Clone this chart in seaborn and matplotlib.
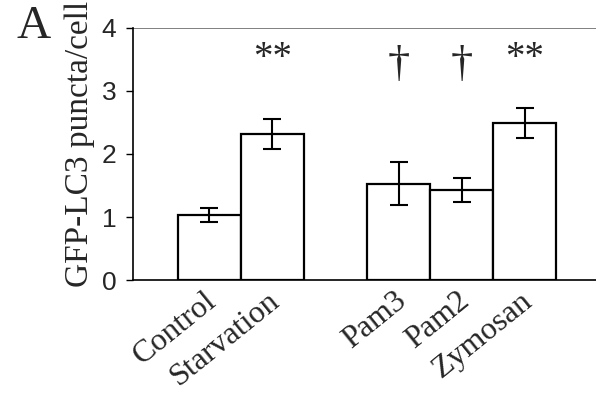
import matplotlib
matplotlib.use("Agg")
import matplotlib.pyplot as plt
import matplotlib.transforms as mtrans
import seaborn as sns
import pandas as pd

categories = ["Control", "Starvation", "Pam3", "Pam2", "Zymosan"]
order = ["Control", "Starvation", " ", "Pam3", "Pam2", "Zymosan"]
values = [1.03, 2.32, 1.53, 1.43, 2.49]
errors = [0.11, 0.24, 0.34, 0.19, 0.24]
marks = ["", "**", "\u2020", "\u2020", "**"]
yticks = [0, 1, 2, 3, 4]

sns.set_theme(style="white")
plt.rcParams["font.family"] = ["Liberation Serif", "DejaVu Serif"]

df = pd.DataFrame({"cat": categories, "val": values})

fig = plt.figure(figsize=(5.96, 3.93), dpi=100)
ax = fig.add_axes([0.223, 0.2875, 0.777, 0.6413])

sns.barplot(data=df, x="cat", y="val", order=order, width=1.0,
            color="white", edgecolor="black", linewidth=1.6,
            errorbar=None, ax=ax)
for b in ax.patches:
    b.set_facecolor("white")

pos = [order.index(c) for c in categories]
ax.errorbar(pos, values, yerr=errors, fmt="none", ecolor="black",
            elinewidth=1.5, capsize=6.5, capthick=1.5, zorder=5)

for p, v, e, m in zip(pos, values, errors, marks):
    if m == "**":
        ax.text(p, 3.52, m, ha="center", va="center", fontsize=28,
                family="Liberation Serif")
    elif m:
        ax.text(p, 3.42, m, ha="center", va="center", fontsize=32,
                family="Liberation Serif")

ax.set_ylim(0, 4)
ax.set_xlim(-1.21, 6.13)
ax.axhline(4, color="#808080", lw=1.4, zorder=0)
ax.set_yticks(yticks)
ax.set_yticklabels([str(t) for t in yticks], family="Liberation Sans", fontsize=19)
ax.tick_params(axis="y", left=True, length=5, width=1, color="black", pad=7)
ax.tick_params(axis="x", bottom=False, pad=0)
ax.set_xticks(range(len(order)))
ax.set_xticklabels(order, rotation=39, ha="right", rotation_mode="anchor",
                   fontsize=23, family="Liberation Serif")
shift = mtrans.ScaledTranslation(-5 / 100, 2 / 100, fig.dpi_scale_trans)
for lab in ax.get_xticklabels():
    lab.set_transform(lab.get_transform() + shift)
ax.set_xlabel("")
ax.set_ylabel("GFP-LC3 puncta/cell", fontsize=24, family="Liberation Serif",
              labelpad=4)
ax.yaxis.set_label_coords(-0.082, 0.54)

for s in ["top", "right"]:
    ax.spines[s].set_visible(False)
for s in ["left", "bottom"]:
    ax.spines[s].set_color("black")
    ax.spines[s].set_linewidth(1.2)

fig.text(0.028, 0.985, "A", fontsize=34, family="Liberation Serif", va="top", ha="left")

fig.savefig("out.png", dpi=100)
